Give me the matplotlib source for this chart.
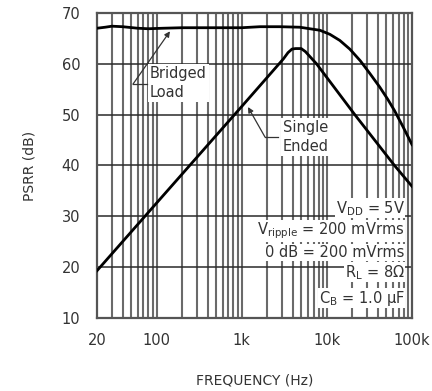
import numpy as np
import matplotlib.pyplot as plt
from matplotlib.ticker import FixedLocator, NullFormatter

plt.rcParams['font.family'] = 'DejaVu Sans'
plt.rcParams['mathtext.default'] = 'regular'

# PSRR vs frequency
freq_bridged = [20, 25, 30, 40, 60, 80, 120, 200, 500, 1000, 1640, 2800, 4800,
                8300, 10860, 14200, 18600, 24700, 32000, 41900, 52000, 62300,
                78000, 94000, 100000]
psrr_bridged = [67.0, 67.2, 67.4, 67.3, 67.0, 66.9, 67.0, 67.1, 67.1, 67.1, 67.3,
                67.3, 67.2, 66.6, 65.8, 64.6, 62.9, 60.6, 58.1, 55.4, 53.0, 50.8,
                47.7, 45.0, 44.1]

freq_single = [20, 100, 1000, 2750, 3100, 3500, 3900, 4300, 5000, 5600, 7570,
               21300, 62300, 100000]
psrr_single = [19.3, 32.6, 51.6, 60.0, 61.0, 62.2, 62.9, 63.0, 63.0, 62.4,
               60.0, 50.0, 40.0, 35.9]

x_ticks = [20, 100, 1000, 10000, 100000]
x_ticklabels = ['20', '100', '1k', '10k', '100k']
y_ticks = [10, 20, 30, 40, 50, 60, 70]

conditions = [r'V$_{DD}$ = 5V',
              r'V$_{ripple}$ = 200 mVrms',
              '0 dB = 200 mVrms',
              r'R$_{L}$ = 8$\Omega$',
              r'C$_{B}$ = 1.0 $\mu$F']
cond_y = [31.6, 27.2, 22.9, 19.0, 13.9]

fig = plt.figure(figsize=(4.32, 3.91), dpi=100)
ax = fig.add_axes([0.2245, 0.1867, 0.7292, 0.7801])

ax.set_xscale('log')
ax.set_xlim(20, 100000)
ax.set_ylim(10, 70)

# grid: every 1-9 of each decade vertically, every 10 dB horizontally
minor = [m * 10 ** d for d in range(1, 5) for m in range(2, 10)]
minor = [v for v in minor if 20 < v < 100000 and v not in x_ticks]
for v in minor + x_ticks[1:-1]:
    ax.axvline(v, color='#6a6a6a', lw=1.5, zorder=1)
for v in y_ticks[1:-1]:
    ax.axhline(v, color='#2a2a2a', lw=1.1, zorder=1)

ax.plot(freq_bridged, psrr_bridged, color='black', lw=2.0, zorder=3,
        solid_joinstyle='round')
ax.plot(freq_single, psrr_single, color='black', lw=2.0, zorder=3,
        solid_joinstyle='round')

ax.xaxis.set_major_locator(FixedLocator(x_ticks))
ax.xaxis.set_minor_locator(FixedLocator(minor))
ax.xaxis.set_minor_formatter(NullFormatter())
ax.set_xticklabels(x_ticklabels)
ax.set_yticks(y_ticks)
ax.tick_params(which='both', length=0, labelsize=10.5, colors='#333333')
ax.tick_params(axis='x', pad=11)
ax.tick_params(axis='y', pad=12)

for s in ax.spines.values():
    s.set_color('#555555')
    s.set_linewidth(1.6)

ax.set_xlabel('FREQUENCY (Hz)', fontsize=10, color='#333333', labelpad=18)
ax.set_ylabel('PSRR (dB)', fontsize=10, color='#333333', labelpad=18)

# curve labels with leader arrows
box = dict(facecolor='white', edgecolor='none', pad=1.5)
ax.text(84, 59.6, 'Bridged\nLoad', fontsize=10.5, color='#333333', ha='left', va='top',
        linespacing=1.35, bbox=box, zorder=4)
ax.plot([52.9, 77], [56.0, 56.0], color='#333333', lw=0.9, zorder=4)
ax.annotate('', xy=(144, 66.4), xytext=(52.9, 56.0),
            arrowprops=dict(arrowstyle='-|>', color='#333333', lw=0.9,
                            shrinkA=0, shrinkB=0, mutation_scale=8), zorder=4)

ax.text(3040, 49.0, 'Single\nEnded', fontsize=10.5, color='#333333', ha='left', va='top',
        linespacing=1.35, bbox=box, zorder=4)
ax.plot([1878, 2660], [45.6, 45.6], color='#333333', lw=0.9, zorder=4)
ax.annotate('', xy=(1186, 51.5), xytext=(1878, 45.6),
            arrowprops=dict(arrowstyle='-|>', color='#333333', lw=0.9,
                            shrinkA=0, shrinkB=0, mutation_scale=8), zorder=4)

for txt, yv in zip(conditions, cond_y):
    ax.text(82000, yv, txt, fontsize=10.5, color='#333333', ha='right', va='center',
            bbox=dict(facecolor='white', edgecolor='none', pad=0.5), zorder=4)

fig.savefig('out.png', dpi=100)
